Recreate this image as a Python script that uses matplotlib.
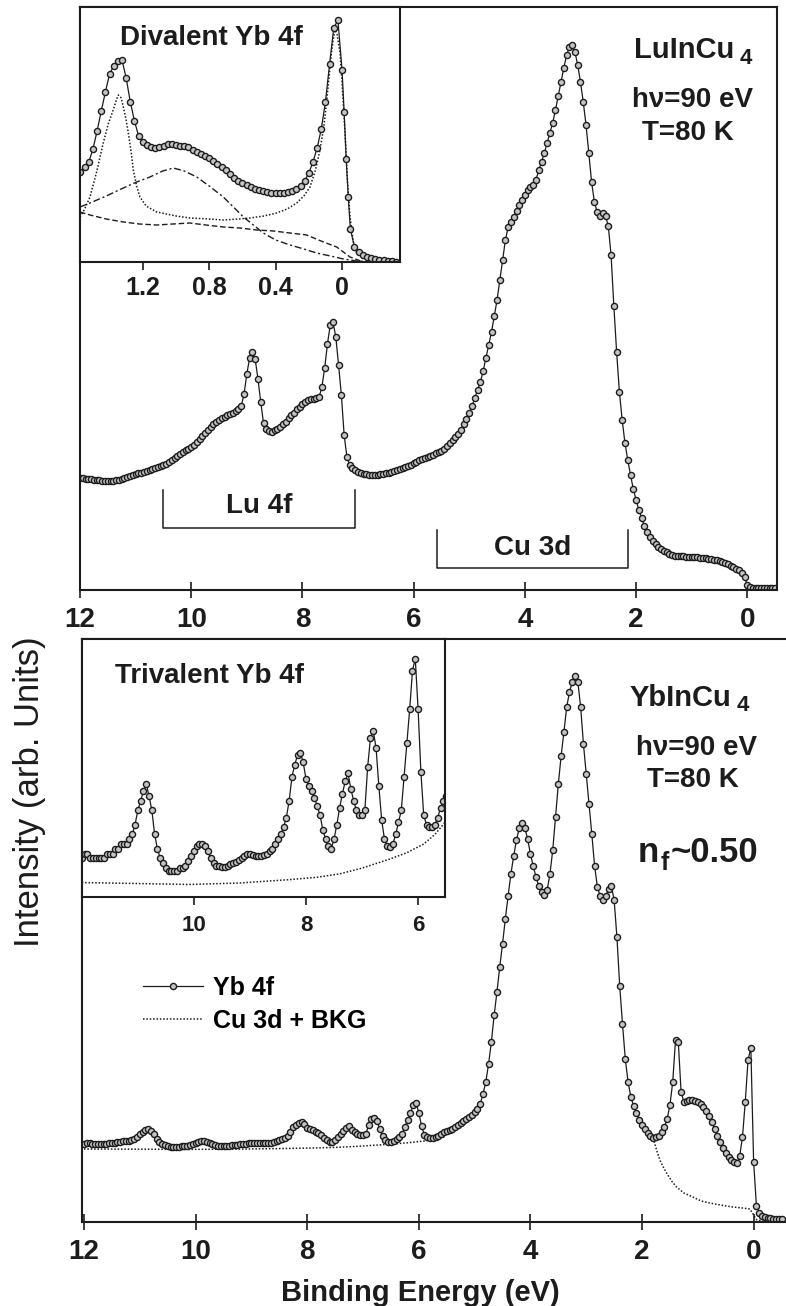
import numpy as np
import matplotlib
matplotlib.use("Agg")
import matplotlib.pyplot as plt

plt.rcParams['font.family'] = ['Liberation Sans', 'DejaVu Sans']
plt.rcParams['font.weight'] = 'bold'

# ---------------- data (binding energy in eV, intensity in arb. units) ----------------
# measurement grid of the two valence-band spectra: 12.00 eV down to -0.50 eV, 0.05 eV steps
grid_start, grid_stop, grid_step = 12.0, -0.5, 0.05
vb_ev = np.round(np.arange(grid_start, grid_stop - 1e-9, -grid_step), 2)

# LuInCu4 (top panel), one row per 0.5 eV
lu_int = [112, 112, 111, 111, 111, 110, 110, 110, 109, 109,      # 12.00 - 11.55
          109, 109, 109, 110, 110, 111, 112, 113, 114, 115,      # 11.50 - 11.05
          116, 117, 117, 118, 119, 120, 121, 122, 123, 124,      # 11.00 - 10.55
          125, 126, 128, 130, 132, 134, 136, 138, 140, 141,      # 10.50 - 10.05
          143, 145, 148, 151, 154, 157, 160, 163, 166, 168,      # 10.00 - 9.55
          170, 172, 173, 175, 176, 177, 179, 181, 184, 196,      # 9.50 - 9.05
          216, 232, 238, 231, 211, 188, 167, 161, 159, 158,      # 9.00 - 8.55
          160, 161, 163, 166, 168, 172, 175, 177, 181, 183,      # 8.50 - 8.05
          186, 188, 190, 191, 191, 192, 193, 203, 222, 246,      # 8.00 - 7.55
          265, 268, 253, 225, 195, 155, 133, 125, 122, 120,      # 7.50 - 7.05
          118, 117, 116, 116, 115, 115, 115, 115, 116, 116,      # 7.00 - 6.55
          117, 117, 118, 119, 120, 121, 122, 123, 124, 125,      # 6.50 - 6.05
          127, 128, 130, 131, 132, 133, 134, 135, 137, 138,      # 6.00 - 5.55
          139, 141, 144, 147, 150, 153, 156, 160, 166, 171,      # 5.50 - 5.05
          177, 184, 192, 200, 208, 219, 232, 245, 258, 274,      # 5.00 - 4.55
          290, 310, 330, 350, 363, 368, 373, 379, 385, 390,      # 4.50 - 4.05
          395, 400, 403, 405, 410, 420, 428, 437, 447, 457,      # 4.00 - 3.55
          467, 480, 494, 508, 522, 535, 543, 545, 538, 525,      # 3.50 - 3.05
          508, 488, 465, 437, 408, 388, 378, 374, 377, 374,      # 3.00 - 2.55
          364, 335, 284, 238, 198, 170, 147, 130, 115, 101,      # 2.50 - 2.05
          90, 80, 72, 64, 58, 53, 49, 46, 43, 41,                # 2.00 - 1.55
          39, 38, 36, 35, 34, 34, 34, 34, 33, 33,                # 1.50 - 1.05
          33, 33, 33, 32, 32, 32, 31, 31, 30, 30,                # 1.00 - 0.55
          29, 28, 27, 26, 24, 23, 21, 20, 17, 13,                # 0.50 - 0.05
          5, 3, 2, 2, 2, 2, 2, 2, 2, 2,                          # 0.00 - -0.45
          2]                                                     # -0.50

# YbInCu4 (bottom panel and trivalent inset), one row per 0.5 eV
yb_int = [78, 79, 79, 78, 78, 78, 78, 78, 78, 79,                # 12.00 - 11.55
          79, 79, 80, 80, 81, 81, 81, 82, 83, 85,                # 11.50 - 11.05
          88, 90, 92, 93.5, 91, 88, 83, 80, 78, 77,              # 11.00 - 10.55
          76, 75.5, 75.5, 75.5, 75.5, 76, 76, 76.5, 77.5, 78.5,  # 10.50 - 10.05
          79.5, 80.5, 81, 81, 80.5, 79.5, 78, 77, 76.5, 76.5,    # 10.00 - 9.55
          76.2, 76.2, 76.5, 76.8, 77, 77.2, 77.6, 78, 78.5, 79,  # 9.50 - 9.05
          79, 78.8, 78.6, 78.6, 78.6, 78.8, 79, 79.5, 80, 81,    # 9.00 - 8.55
          82, 83, 84.5, 86.5, 90, 95, 97.5, 99.5, 100, 98,       # 8.50 - 8.05
          94.5, 93, 92, 90.5, 89, 87, 84, 82, 80.5, 80,          # 8.00 - 7.55
          82, 85, 88.5, 91.5, 94, 95.7, 92.5, 90, 88, 87,        # 7.50 - 7.05
          87, 88, 97, 103, 104.5, 101, 93, 86, 82, 80.5,         # 7.00 - 6.55
          80.3, 81, 83, 85.5, 88, 95, 102, 109, 117, 119.5,      # 6.50 - 6.05
          109, 96, 87, 85, 84.5, 84.5, 85, 86.5, 88.5, 90,       # 6.00 - 5.55
          91, 92, 93.5, 95, 97, 99, 101, 103, 105, 107,          # 5.50 - 5.05
          110, 113, 118, 128, 140, 158, 180, 207, 230, 255,      # 5.00 - 4.55
          278, 303, 326, 348, 366, 382, 394, 399, 394, 383,      # 4.50 - 4.05
          368, 356, 345, 336, 330, 327, 332, 348, 372, 405,      # 4.00 - 3.55
          438, 466, 490, 515, 530, 540, 546, 540, 515, 478,      # 3.50 - 3.05
          448, 418, 388, 356, 335, 326, 322, 326, 333, 336,      # 3.00 - 2.55
          322, 285, 236, 198, 163, 140, 125, 116, 109, 102,      # 2.50 - 2.05
          97, 93, 89, 86, 84, 85, 86, 90, 95, 103,               # 2.00 - 1.55
          117, 140, 182, 180, 130, 120, 121, 122, 122, 121,      # 1.50 - 1.05
          120, 118, 115, 111, 106, 100, 93, 86, 80, 74,          # 1.00 - 0.55
          69, 65, 62, 60, 59, 66, 85, 120, 162, 174,             # 0.50 - 0.05
          60, 16, 9, 6, 5, 4, 4, 3, 3, 3,                        # 0.00 - -0.45
          3]                                                     # -0.50

# Cu 3d + BKG (dotted), visible high-BE part and low-BE part
bkg_hi_ev = [12.0, 11.0, 10.1, 9.2, 8.3, 7.8, 7.4, 7.0, 6.5, 6.2, 5.9, 5.7, 5.52]
bkg_hi_int = [73, 72.8, 72.6, 72.9, 73.6, 74.1, 74.8, 76, 77.9, 79.2, 81, 83, 85.5]
bkg_lo_ev = [1.80, 1.74, 1.68, 1.62, 1.56, 1.47, 1.38, 1.25, 1.09, 0.94,
             0.79, 0.60, 0.37, 0.20, 0.07, 0.02, -0.02, -0.06, -0.15, -0.45]
bkg_lo_int = [84, 72, 62, 55, 49, 41, 35, 29, 25, 21,
              19, 17, 15, 14, 13, 9, 5, 2, 1, 1]

# Divalent Yb 4f inset (top): data and fit components
div_ev = [1.575, 1.55, 1.525, 1.5, 1.475, 1.45, 1.425, 1.4, 1.375, 1.35,
          1.325, 1.3, 1.275, 1.25, 1.225, 1.2, 1.175, 1.15, 1.125, 1.1,
          1.075, 1.05, 1.025, 1.0, 0.975, 0.95, 0.925, 0.9, 0.875, 0.85,
          0.825, 0.8, 0.775, 0.75, 0.725, 0.7, 0.675, 0.65, 0.625, 0.6,
          0.575, 0.55, 0.525, 0.5, 0.475, 0.45, 0.425, 0.4, 0.375, 0.35,
          0.325, 0.3, 0.275, 0.25, 0.225, 0.2, 0.175, 0.15, 0.125, 0.1,
          0.075, 0.05, 0.025, 0.0, -0.0125, -0.025, -0.0375, -0.05, -0.075, -0.1,
          -0.125, -0.15, -0.175, -0.2, -0.225, -0.25, -0.275, -0.3, -0.325]
div_int = [90, 95, 100, 113, 131, 151, 170, 188, 196, 201,
           202, 184, 160, 141, 126, 120, 117, 115, 114, 115,
           116, 118, 118, 117, 116, 116, 115, 112, 110, 108,
           106, 104, 101, 98, 95, 92, 88, 84, 81, 79,
           77, 75, 73, 72, 71, 70, 69, 69, 69, 69,
           70, 71, 73, 76, 81, 89, 100, 114, 133, 160,
           198, 234, 242, 192, 150, 103, 65, 33, 15, 10,
           7, 5, 4, 3, 2, 2, 1, 1, 0]
peaks_ev = [1.578, 1.55, 1.518, 1.478, 1.438, 1.408, 1.378, 1.357, 1.347, 1.33,
            1.317, 1.3, 1.287, 1.27, 1.257, 1.237, 1.217, 1.18, 1.116, 1.0,
            0.916, 0.8, 0.715, 0.62, 0.554, 0.47, 0.394, 0.33, 0.273, 0.23,
            0.193, 0.16, 0.133, 0.11, 0.092, 0.075, 0.062, 0.05, 0.042, 0.03,
            0.012, 0.0, -0.018, -0.033, -0.048, -0.068, -0.088, -0.13, -0.19, -0.339]
peaks_int = [45, 53, 65, 90, 119, 138, 152, 163, 167, 164,
             155, 142, 129, 110, 92, 76, 65, 56, 50, 46,
             44, 43, 42, 43, 44, 46, 49, 53, 59, 66,
             75, 92, 112, 135, 162, 190, 212, 226, 232, 228,
             209, 180, 129, 80, 45, 20, 9, 4, 2, 1]
broad_ev = [1.578, 1.518, 1.42, 1.317, 1.237, 1.157, 1.08, 1.016, 0.95, 0.875,
            0.8, 0.715, 0.654, 0.594, 0.534, 0.474, 0.4, 0.313, 0.23, 0.153,
            0.07, -0.008, -0.088, -0.2, -0.339]
broad_int = [55, 59, 66, 74, 80, 85, 91, 94, 91, 85,
             76, 65, 55, 45, 37, 29, 22, 17, 13, 9,
             6, 3, 1, 0, 0]
sbg_ev = [1.578, 1.518, 1.42, 1.317, 1.22, 1.116, 1.02, 0.916, 0.82, 0.715,
          0.614, 0.514, 0.413, 0.313, 0.213, 0.112, 0.032, -0.048, -0.128, -0.339]
sbg_int = [50, 47, 43, 40, 38, 37, 38, 39, 37, 35,
           34, 32, 31, 29, 27, 20, 15, 5, 0, 0]

main_ticks = [12, 10, 8, 6, 4, 2, 0]
main_labels = ['12', '10', '8', '6', '4', '2', '0']
div_ticks = [1.2, 0.8, 0.4, 0.0]
div_labels = ['1.2', '0.8', '0.4', '0']
tri_ticks = [10, 8, 6]
tri_labels = ['10', '8', '6']

# ---------------- figure ----------------
W, H, DPI = 786, 1306, 100
fig = plt.figure(figsize=(W / DPI, H / DPI), dpi=DPI)


def rect(x0, y0, x1, y1):
    return [x0 / W, 1 - y1 / H, (x1 - x0) / W, (y1 - y0) / H]


def ftext(px, py, s, **kw):
    fig.text(px / W, 1 - py / H, s, **kw)


INK = '#1c1c1c'
data_kw = dict(color=INK, lw=0.9, marker='o', ms=4.4, mfc='#c4c4c4', mec=INK, mew=1.0)
dot_kw = dict(color=INK, lw=1.1, ls=(0, (1, 1.2)))


def style_main(ax):
    for s in ax.spines.values():
        s.set_linewidth(1.5)
        s.set_color(INK)
    ax.set_yticks([])
    ax.set_xticks(main_ticks, main_labels)
    ax.tick_params(axis='x', direction='inout', length=11, width=1.2, pad=7,
                   labelsize=20, colors=INK)


def style_inset(ax, ticks, labels, size, pad):
    ax.set_facecolor('white')
    for s in ax.spines.values():
        s.set_linewidth(1.5)
        s.set_color(INK)
    ax.set_yticks([])
    ax.set_xticks(ticks, labels)
    ax.tick_params(axis='x', direction='out', length=6, width=1.2, pad=pad,
                   labelsize=size, colors=INK)


# ---- top panel: LuInCu4 ----
ax1 = fig.add_axes(rect(80, 7, 777, 590))
ax1.set_xlim(12, -0.534)
ax1.set_ylim(0, 583)
ax1.plot(vb_ev, lu_int, **data_kw)
style_main(ax1)
# region brackets
ax1.plot([10.51, 10.51, 7.06, 7.06], [100, 62, 62, 100], color=INK, lw=1.1)
ax1.plot([5.58, 5.58, 2.15, 2.15], [60, 22, 22, 60], color=INK, lw=1.1)
ax1.text(8.785, 77, 'Lu 4f', ha='center', va='baseline', fontsize=20, color=INK)
ax1.text(3.865, 35, 'Cu 3d', ha='center', va='baseline', fontsize=20, color=INK)

# ---- top inset: divalent Yb 4f ----
axi1 = fig.add_axes(rect(80, 7, 400, 262))
axi1.set_xlim(1.578, -0.349)
axi1.set_ylim(0, 255)
axi1.plot(sbg_ev, sbg_int, color=INK, lw=1.0, ls=(0, (4, 2)))
axi1.plot(broad_ev, broad_int, color=INK, lw=1.0, ls=(0, (5, 2, 1.5, 2)))
axi1.plot(peaks_ev, peaks_int, **dot_kw)
axi1.plot(div_ev, div_int, **data_kw)
style_inset(axi1, div_ticks, div_labels, 18, 4)

# ---- bottom panel: YbInCu4 ----
ax2 = fig.add_axes(rect(82, 639, 786, 1222))
ax2.set_xlim(12.036, -0.58)
ax2.set_ylim(0, 583)
l_bkg, = ax2.plot(bkg_hi_ev, bkg_hi_int, **dot_kw)
ax2.plot(bkg_lo_ev, bkg_lo_int, **dot_kw)
l_dat, = ax2.plot(vb_ev, yb_int, **data_kw)
style_main(ax2)
ax2.spines['right'].set_visible(False)
ax2.legend([l_dat, l_bkg], ['Yb 4f', 'Cu 3d + BKG'], loc='upper left',
           bbox_to_anchor=(143 / W, 1 - 976 / H), bbox_transform=fig.transFigure,
           frameon=False, fontsize=18, handlelength=2.4, handletextpad=0.4,
           labelspacing=0.35, borderpad=0, borderaxespad=0, numpoints=1)

# ---- bottom inset: trivalent Yb 4f ----
axi2 = fig.add_axes(rect(82, 639, 445, 897))
axi2.set_xlim(11.996, 5.52)
axi2.set_ylim(70, 123.6)
axi2.plot(bkg_hi_ev, bkg_hi_int, **dot_kw)
axi2.plot(vb_ev, yb_int, **data_kw)
style_inset(axi2, tri_ticks, tri_labels, 16, 7)

# ---- annotations ----
ftext(120, 45, 'Divalent Yb 4f', fontsize=20, color=INK, va='baseline', ha='left')
ftext(115, 683, 'Trivalent Yb 4f', fontsize=20, color=INK, va='baseline', ha='left')

ftext(634, 58, 'LuInCu', fontsize=21, color=INK, va='baseline', ha='left')
ftext(740, 64, '4', fontsize=16, color=INK, va='baseline', ha='left')
ftext(692, 107, 'h\u03bd=90 eV', fontsize=20, color=INK, va='baseline', ha='center')
ftext(688, 140, 'T=80 K', fontsize=20, color=INK, va='baseline', ha='center')

ftext(630, 706, 'YbInCu', fontsize=21, color=INK, va='baseline', ha='left')
ftext(737, 711, '4', fontsize=16, color=INK, va='baseline', ha='left')
ftext(697, 755, 'h\u03bd=90 eV', fontsize=20, color=INK, va='baseline', ha='center')
ftext(693, 787, 'T=80 K', fontsize=20, color=INK, va='baseline', ha='center')

ftext(638, 862, 'n', fontsize=25, color=INK, va='baseline', ha='left')
ftext(661, 870, 'f', fontsize=18, color=INK, va='baseline', ha='left')
ftext(671, 862, '~0.50', fontsize=25, color=INK, va='baseline', ha='left')

ftext(30, 792, 'Intensity (arb. Units)', fontsize=25, fontweight='normal', color=INK,
      rotation=90, ha='center', va='center')
ftext(420, 1293, 'Binding Energy (eV)', fontsize=21, color=INK, ha='center', va='center')

fig.savefig('out.png', dpi=DPI, facecolor='white')
